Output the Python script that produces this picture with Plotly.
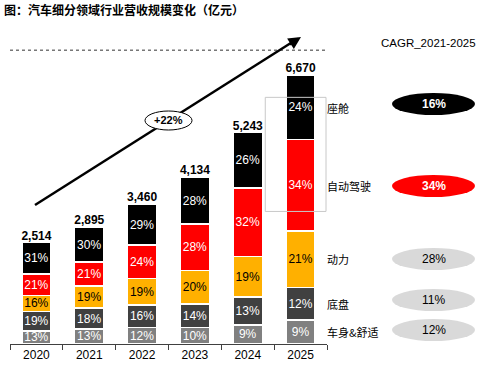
import plotly.graph_objects as go

years = ["2020", "2021", "2022", "2023", "2024", "2025"]
totals = [2514, 2895, 3460, 4134, 5243, 6670]
total_labels = ["2,514", "2,895", "3,460", "4,134", "5,243", "6,670"]

# segments bottom -> top
segments = ["车身&舒适", "底盘", "动力", "自动驾驶", "座舱"]
shares = {
    "车身&舒适": [13, 13, 12, 10, 9, 9],
    "底盘": [19, 18, 16, 14, 13, 12],
    "动力": [16, 19, 19, 20, 19, 21],
    "自动驾驶": [21, 21, 24, 28, 32, 34],
    "座舱": [31, 30, 29, 28, 26, 24],
}
cagr = {"座舱": "16%", "自动驾驶": "34%", "动力": "28%", "底盘": "11%", "车身&舒适": "12%"}
overall_growth = "+22%"

colors = {"车身&舒适": "#808080", "底盘": "#404040", "动力": "#FFB000",
          "自动驾驶": "#FF0000", "座舱": "#000000"}
text_colors = {"车身&舒适": "white", "底盘": "white", "动力": "black",
               "自动驾驶": "white", "座舱": "white"}

FONT = "Liberation Sans, Arial, sans-serif"
CJK = "Noto Sans CJK SC, sans-serif"

# layout geometry (pixels); margins are zero so paper == whole figure
WIDTH, HEIGHT = 480, 366
PL, PR, PT, PB = 10, 327, 30, 344          # plot area edges in pixels
PH = PB - PT
YMAX = 6670 * PH / 269.0

def px(x):
    return x / WIDTH

def py(y):
    return 1 - y / HEIGHT

fig = go.Figure()
sums = [sum(shares[s][i] for s in segments) for i in range(len(years))]
for s in segments:
    vals = [totals[i] * shares[s][i] / sums[i] for i in range(len(years))]
    fig.add_trace(go.Bar(
        x=years, y=vals, name=s,
        marker=dict(color=colors[s], line=dict(color="white", width=1.5)),
        text=[f"{v}%" for v in shares[s]],
        textposition="inside", insidetextanchor="middle", textangle=0,
        insidetextfont=dict(family=FONT, size=12, color=text_colors[s]),
        width=0.55, hoverinfo="skip",
    ))

fig.add_trace(go.Scatter(
    x=years, y=totals, mode="text", text=[f"<b>{t}</b>" for t in total_labels],
    textposition="top center", textfont=dict(family=FONT, size=12, color="black"),
    cliponaxis=False, hoverinfo="skip",
))

# decorative lines on a full-figure overlay axis measured in pixels
fig.add_trace(go.Scatter(
    x=[0, 480], y=[23.5, 23.5], xaxis="x2", yaxis="y2", mode="lines",
    line=dict(color="#333333", width=1, dash="dot"), hoverinfo="skip",
))
fig.add_trace(go.Scatter(
    x=[386.5, 478.5, 478.5, 386.5, 386.5], y=[78.5, 78.5, 211.5, 211.5, 78.5],
    xaxis="x2", yaxis="y2", mode="lines",
    line=dict(color="#c8c8c8", width=1), hoverinfo="skip",
))

shapes = []
annotations = []

def note(x, y, text, font, xanchor="center"):
    annotations.append(dict(xref="paper", yref="paper", x=px(x), y=py(y), xanchor=xanchor,
                            yanchor="middle", text=text, showarrow=False, font=font))

# title
note(2, 9, "<b>图：汽车细分领域行业营收规模变化（亿元）</b>", dict(family=CJK, size=12, color="black"), "left")

# growth arrow
shapes.append(dict(type="line", xref="paper", yref="paper", x0=px(35), y0=py(205), x1=px(294), y1=py(41),
                   line=dict(color="black", width=2.5)))
annotations.append(dict(xref="paper", yref="paper", x=px(301), y=py(37), ax=-13, ay=8.3, text="",
                        showarrow=True, arrowhead=2, arrowsize=1, arrowwidth=2.5, arrowcolor="black"))
shapes.append(dict(type="circle", xref="paper", yref="paper", x0=px(145), x1=px(192), y0=py(130), y1=py(111),
                   fillcolor="white", line=dict(color="black", width=1)))
note(168.5, 120.5, f"<b>{overall_growth}</b>", dict(family=FONT, size=11, color="black"))

note(428, 43, "CAGR_2021-2025", dict(family=FONT, size=11.5, color="black"))

label_y = {"座舱": 108, "自动驾驶": 186, "动力": 259, "底盘": 304, "车身&舒适": 332}
ell_y = {"座舱": 104, "自动驾驶": 186, "动力": 259, "底盘": 300, "车身&舒适": 330}
ell_fill = {"座舱": "black", "自动驾驶": "#FF0000", "动力": "#D9D9D9", "底盘": "#D9D9D9", "车身&舒适": "#D9D9D9"}
ell_txt = {"座舱": "white", "自动驾驶": "white", "动力": "black", "底盘": "black", "车身&舒适": "black"}

for s in segments:
    note(325, label_y[s], s, dict(family=CJK, size=11, color="black"), "left")
    cy = ell_y[s]
    shapes.append(dict(type="circle", xref="paper", yref="paper", x0=px(392), x1=px(475),
                       y0=py(cy + 11), y1=py(cy - 11), fillcolor=ell_fill[s], line=dict(width=0)))
    txt = f"<b>{cagr[s]}</b>" if ell_txt[s] == "white" else cagr[s]
    note(433.5, cy, txt, dict(family=FONT, size=12, color=ell_txt[s]))

fig.update_layout(
    width=WIDTH, height=HEIGHT, margin=dict(l=0, r=0, t=0, b=0, autoexpand=False),
    barmode="stack", bargap=0.45, showlegend=False, hovermode=False,
    paper_bgcolor="white", plot_bgcolor="rgba(0,0,0,0)",
    uniformtext=dict(minsize=12, mode="show"),
    xaxis=dict(type="category", tickson="boundaries", ticks="outside", ticklen=5, tickcolor="#404040",
               showline=True, linecolor="#404040", linewidth=1, showgrid=False, range=[-0.5, 5.5],
               domain=[PL / WIDTH, PR / WIDTH], automargin=False, fixedrange=True,
               tickfont=dict(family=FONT, size=12, color="black")),
    yaxis=dict(visible=False, range=[0, YMAX], domain=[1 - PB / HEIGHT, 1 - PT / HEIGHT],
               automargin=False, fixedrange=True),
    xaxis2=dict(visible=False, range=[0, WIDTH], domain=[0, 1], anchor="y2", overlaying="x",
                fixedrange=True),
    yaxis2=dict(visible=False, range=[HEIGHT, 0], domain=[0, 1], anchor="x2", overlaying="y",
                fixedrange=True),
    shapes=shapes, annotations=annotations,
)

fig.write_html("out.html", config={"displayModeBar": False},
               post_script="document.body.style.margin='0';document.body.style.overflow='hidden';")
